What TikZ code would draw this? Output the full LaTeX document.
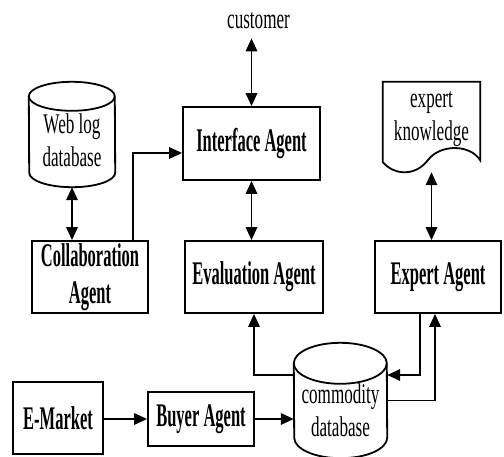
\documentclass[tikz,border=0pt]{standalone}
\usepackage{fontspec}
\setmainfont{Liberation Serif}
\newfontfamily\bcond[FakeStretch=0.5]{Liberation Serif}
\newfontfamily\rcond[FakeStretch=0.6]{Liberation Serif}
\usetikzlibrary{arrows.meta,calc}
\newcommand\dbtxt[2]{\raisebox{#1}[0pt][0pt]{\begin{tabular}{@{}c@{}}#2\end{tabular}}}
\tikzset{
  agent/.style={draw, line width=1.8pt, align=center, inner sep=0pt,
    font=\bcond\bfseries\fontsize{33}{37}\selectfont},
  store/.style={inner sep=0pt, font=\rcond\fontsize{28.5}{33}\selectfont},
  shp/.style={line width=1.8pt},
  tip/.tip={Triangle[length=13pt,width=11.5pt]},
  arr/.style={line width=1.7pt, -tip},
  darr/.style={line width=1.7pt, tip-tip},
}
\begin{document}
\begin{tikzpicture}[x=1pt,y=1pt]
\useasboundingbox (0,0) rectangle (504,456);

% nodes
\node[store] (customer) at (258.5,435) {customer};
\node[agent, minimum width=137pt, minimum height=73pt] (iface) at (251.5,312.5) {Interface Agent};
\node[store, minimum width=86pt, minimum height=105pt] (web) at (72,321.5) {\dbtxt{-15pt}{Web log\\database}};
\node[store, minimum width=97pt, minimum height=90pt] (know) at (431.5,329) {\dbtxt{3pt}{expert\\knowledge}};
\node[agent, minimum width=116pt, minimum height=72pt] (collab) at (90,179) {Collaboration\\Agent};
\node[agent, minimum width=138pt, minimum height=72pt] (eval) at (254,179) {Evaluation Agent};
\node[agent, minimum width=126pt, minimum height=72pt] (expert) at (438,179) {Expert Agent};
\node[agent, minimum width=90pt, minimum height=72pt] (emarket) at (58,38) {E-Market};
\node[agent, minimum width=106pt, minimum height=54pt] (buyer) at (201,37) {Buyer Agent};
\node[store, minimum width=93pt, minimum height=115pt] (cdb) at (340.5,55.5) {\dbtxt{-19.5pt}{commodity\\database}};

% cylinder outlines
\draw[shp] ([yshift=-14.5pt]web.north west) arc[start angle=180,end angle=0,x radius=43pt,y radius=14.5pt]
  -- ([yshift=14.5pt]web.south east) arc[start angle=0,end angle=-180,x radius=43pt,y radius=14.5pt] -- cycle;
\draw[shp] ([yshift=-14.5pt]web.north west) arc[start angle=180,end angle=360,x radius=43pt,y radius=14.5pt];
\draw[shp] ([yshift=-20.5pt]cdb.north west) arc[start angle=180,end angle=0,x radius=46.5pt,y radius=20.5pt]
  -- ([yshift=20.5pt]cdb.south east) arc[start angle=0,end angle=-180,x radius=46.5pt,y radius=20.5pt] -- cycle;
\draw[shp] ([yshift=-20.5pt]cdb.north west) arc[start angle=180,end angle=360,x radius=46.5pt,y radius=20.5pt];

% document outline
\draw[shp] (know.north west) -- (know.north east) -- ([yshift=12pt]know.south east)
  .. controls (470,312) and (440,312) .. (428,296)
  .. controls (416,280) and (395,280) .. ([yshift=10pt]know.south west) -- cycle;

% connectors
\draw[darr] ([yshift=-9pt]customer.south -| iface.north) -- (iface.north);
\draw[darr] (web.south) -- (web.south |- collab.north);
\draw[arr] ([xshift=43pt]collab.north) |- ([yshift=-9.5pt]iface.west);
\draw[darr] (iface.south) -- (iface.south |- eval.north);
\draw[darr] (know.south) -- (know.south |- expert.north);
\draw[arr] ([yshift=25.5pt]cdb.west) -| (eval.south);
\draw[arr] ([xshift=-18pt]expert.south) |- ([yshift=25.5pt]cdb.east);
\draw[arr] (cdb.east) -| ([xshift=-3pt]expert.south);
\draw[arr] (buyer.east) -- (buyer.east -| cdb.west);
\draw[arr] (emarket.east |- buyer.west) -- (buyer.west);
\end{tikzpicture}
\end{document}
